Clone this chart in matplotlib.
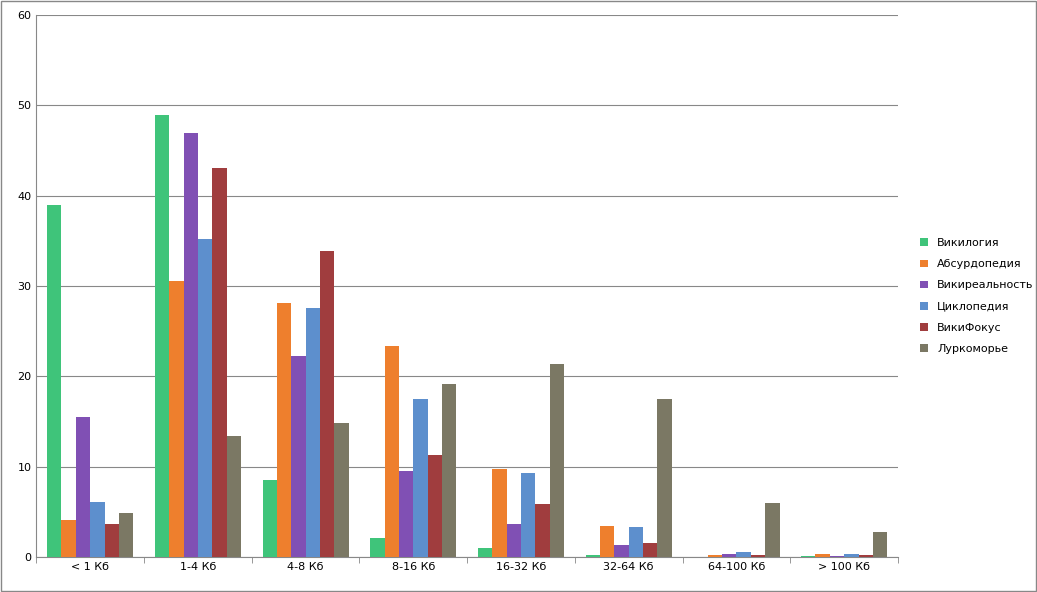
import matplotlib.pyplot as plt
import numpy as np

categories = ['< 1 Кб', '1-4 Кб', '4-8 Кб', '8-16 Кб', '16-32 Кб', '32-64 Кб', '64-100 Кб', '> 100 Кб']
series = ['Викилогия', 'Абсурдопедия', 'Викиреальность', 'Циклопедия', 'ВикиФокус', 'Луркоморье']
vikilogiya = [39.0, 48.9, 8.5, 2.1, 1.0, 0.25, 0.05, 0.1]
absurdopediya = [4.1, 30.6, 28.1, 23.4, 9.8, 3.4, 0.2, 0.35]
vikirealnost = [15.5, 46.9, 22.2, 9.5, 3.7, 1.3, 0.3, 0.15]
tsiklopediya = [6.1, 35.2, 27.6, 17.5, 9.3, 3.3, 0.6, 0.35]
vikifokus = [3.7, 43.0, 33.9, 11.3, 5.9, 1.6, 0.2, 0.2]
lurkomorye = [4.9, 13.4, 14.8, 19.2, 21.4, 17.5, 6.0, 2.8]
values = [vikilogiya, absurdopediya, vikirealnost, tsiklopediya, vikifokus, lurkomorye]
colors = ['#3fc47a', '#ee7f2d', '#8050b4', '#5d8fcd', '#a03d3e', '#7b7864']

fig = plt.figure(figsize=(10.37, 5.92), dpi=100)
ax = fig.add_axes([0.035, 0.059, 0.831, 0.916])
x = np.arange(len(categories))
w = 0.8 / 6
for i, (name, vals) in enumerate(zip(series, values)):
    ax.bar(x - 0.4 + w * (i + 0.5), vals, width=w, color=colors[i], label=name, zorder=3)

ax.set_xlim(-0.5, len(categories) - 0.5)
ax.set_ylim(0, 60)
ax.set_yticks(range(0, 61, 10))
ax.set_xticks(x)
ax.set_xticklabels(categories, fontsize=8)
ax.tick_params(axis='y', labelsize=8, length=0)
ax.tick_params(axis='x', length=0)
ax.set_xticks(np.arange(-0.5, len(categories)), minor=True)
ax.tick_params(axis='x', which='minor', length=4, color='#888888')
ax.yaxis.grid(True, color='#888888', linewidth=0.8, zorder=0)
for s in ['top', 'right']:
    ax.spines[s].set_visible(False)
ax.spines['left'].set_color('#888888')
ax.spines['bottom'].set_color('#888888')

fig.legend(loc='center left', bbox_to_anchor=(0.878, 0.5), frameon=False, fontsize=8,
           handlelength=0.7, handleheight=0.7, labelspacing=1.0)
fig.patches.append(plt.Rectangle((0.001, 0.002), 0.998, 0.996, transform=fig.transFigure,
                                 fill=False, edgecolor='#888888', linewidth=1))
fig.savefig('out.png', dpi=100)
